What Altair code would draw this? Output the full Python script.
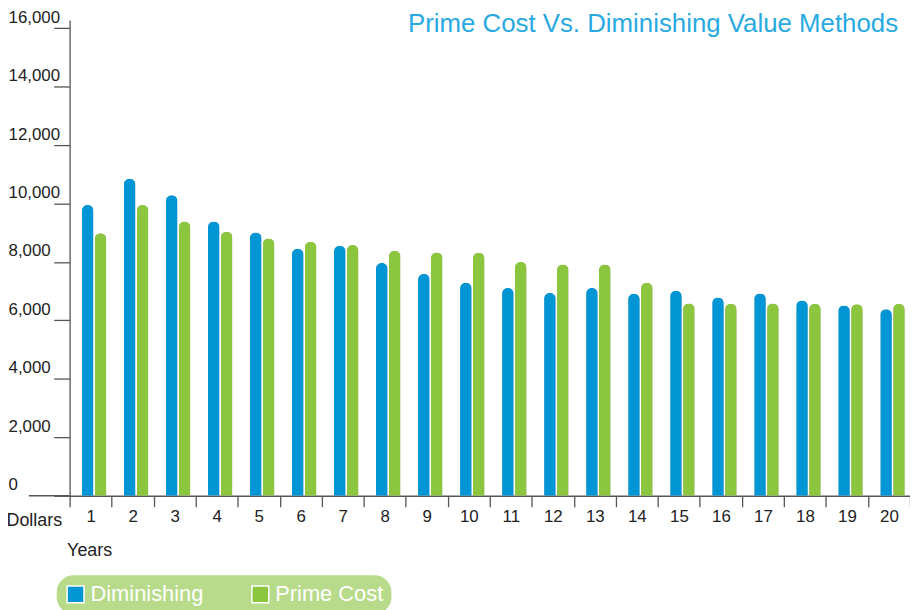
import altair as alt
import pandas as pd

years = [str(i) for i in range(1, 21)]
diminishing = [9950, 10850, 10280, 9380, 9010, 8450, 8550, 7960, 7590, 7290,
               7110, 6940, 7110, 6910, 7010, 6780, 6920, 6680, 6510, 6380]
prime_cost = [8980, 9950, 9380, 9030, 8800, 8690, 8580, 8380, 8320, 8310,
              8000, 7910, 7910, 7290, 6580, 6570, 6580, 6570, 6550, 6570]
series = ["Diminishing", "Prime Cost"]
colors = ["#0096d6", "#8cc63f"]
y_ticks = [0, 2000, 4000, 6000, 8000, 10000, 12000, 14000, 16000]
title_text = "Prime Cost Vs. Diminishing Value Methods"

rows = []
for i, yr in enumerate(years):
    rows.append({"Year": yr, "Method": series[0], "Value": diminishing[i]})
    rows.append({"Year": yr, "Method": series[1], "Value": prime_cost[i]})
df = pd.DataFrame(rows)

FONT = "Liberation Sans"

x_enc = alt.X("Year:N", sort=years,
              scale=alt.Scale(paddingInner=0, paddingOuter=0),
              axis=alt.Axis(title="Years", labelAngle=0, tickBand="extent",
                            tickSize=11, labelPadding=2, labelFontSize=17,
                            labelFont=FONT, labelColor="#222",
                            domainColor="#555", tickColor="#555",
                            domainWidth=1.3, tickWidth=1.3,
                            titleFont=FONT, titleFontSize=18, titleFontWeight="normal",
                            titleColor="#222", titleAlign="left", titleBaseline="alphabetic",
                            titleX=-3, titleY=60))
xo_enc = alt.XOffset("Method:N", sort=series,
                     scale=alt.Scale(paddingInner=0.1, paddingOuter=0.68, align=0.7))
y_enc = alt.Y("Value:Q",
              scale=alt.Scale(domain=[0, 16280], nice=False),
              axis=alt.Axis(title="Dollars", values=y_ticks, format=",d", grid=False,
                            tickSize=16, labelAlign="left", labelPadding=46,
                            labelBaseline="bottom", labelOffset=-2, labelFontSize=17,
                            labelFont=FONT, labelColor="#222", domainColor="#555",
                            tickColor="#555", domainWidth=1.3, tickWidth=1.3,
                            titleAngle=0, titleAlign="left", titleBaseline="alphabetic",
                            titleX=-64, titleY=509, titleFont=FONT, titleFontSize=18,
                            titleFontWeight="normal", titleColor="#222"))

base = alt.Chart(df)

shadow = base.mark_bar(color="#8a8a8a", opacity=0.6, xOffset=1.5,
                       cornerRadiusTopLeft=6, cornerRadiusTopRight=6).encode(
    x=x_enc, xOffset=xo_enc, y=y_enc)

bars = base.mark_bar(cornerRadiusTopLeft=6, cornerRadiusTopRight=6).encode(
    x=x_enc, xOffset=xo_enc, y=y_enc,
    color=alt.Color("Method:N", sort=series,
                    scale=alt.Scale(domain=series, range=colors),
                    legend=alt.Legend(title=None, orient="none", legendX=-13, legendY=559,
                                      direction="horizontal", fillColor="#b7db8a",
                                      cornerRadius=17, padding=8, symbolType="square",
                                      symbolSize=289, symbolStrokeColor="white",
                                      symbolStrokeWidth=1.5, symbolOpacity=1,
                                      labelColor="white", labelFontSize=22, labelFont=FONT,
                                      labelOffset=4, columnPadding=45)))

axis_ext = alt.Chart(pd.DataFrame({"v": [0]})).mark_rule(color="#555", strokeWidth=1.3).encode(
    y=alt.Y("v:Q"), x=alt.value(-41), x2=alt.value(0))

title = alt.Chart(pd.DataFrame({"t": [title_text]})).mark_text(
    align="right", baseline="alphabetic", font=FONT, fontSize=26,
    fontWeight="normal", color="#29a9e1").encode(
    text="t:N", x=alt.value(834), y=alt.value(12))

chart = alt.layer(shadow, bars, axis_ext, title).properties(
    width=846, height=479,
    autosize=alt.AutoSizeParams(type="none"),
    padding={"left": 62, "top": 10, "right": 0, "bottom": 113},
).configure_view(stroke=None)

chart.save("out.html", embed_options={"renderer": "svg", "actions": False})
